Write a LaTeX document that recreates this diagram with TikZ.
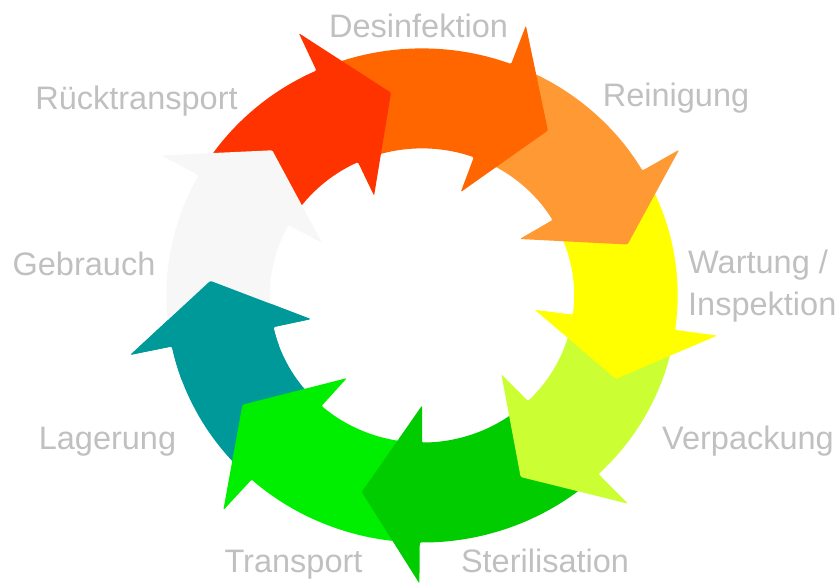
\documentclass[tikz,border=0pt]{standalone}
\usepackage{fontspec}
\setmainfont{Liberation Sans}
\definecolor{cGray}{HTML}{F7F7F7}
\definecolor{cRed}{HTML}{FF3300}
\definecolor{cOrange}{HTML}{FF6600}
\definecolor{cLOrange}{HTML}{FF9933}
\definecolor{cYellow}{HTML}{FFFF00}
\definecolor{cYGreen}{HTML}{CCFF33}
\definecolor{cDGreen}{HTML}{00CC00}
\definecolor{cBGreen}{HTML}{00EE00}
\definecolor{cTeal}{HTML}{009999}
\definecolor{cLabel}{HTML}{C0C0C0}
\tikzset{
  lbl/.style={text=cLabel, font=\fontsize{32.5pt}{41.7pt}\selectfont, inner sep=0pt, anchor=base},
  cyc/.style={rounded corners=1.2pt}
}
% #1 tip angle, #2 tail angle, #3 colour
\newcommand\cycarrow[3]{%
  \fill[#3, cyc] (#2:255.6pt and 247pt)
    arc[start angle=#2, end angle={#1+16}, x radius=255.6pt, y radius=247pt]
    -- ({#1+16}:298.1pt and 288pt)
    -- (#1:212.2pt and 205pt)
    -- ({#1+16.5}:113.85pt and 110pt)
    -- ({#1+16.5}:152.1pt and 147pt)
    arc[start angle={#1+16.5}, end angle=#2, x radius=152.1pt, y radius=147pt]
    -- cycle;}
\begin{document}
\begin{tikzpicture}
\useasboundingbox (0,0) rectangle (840pt,583pt);
\begin{scope}[shift={(422pt,287.5pt)}]
  \cycarrow{-184.1}{-134.8}{cTeal}
  \cycarrow{-147.8}{-93.5}{cBGreen}
  \cycarrow{-106.5}{-49.3}{cDGreen}
  \cycarrow{-62.3}{-11}{cYGreen}
  \cycarrow{-24}{27.4}{cYellow}
  \cycarrow{14.4}{66.6}{cLOrange}
  \cycarrow{53.6}{111.4}{cOrange}
  \cycarrow{98.4}{147.9}{cRed}
  \cycarrow{134.9}{188.9}{cGray}
  \begin{scope}
    \clip (0,0) -- (165:331pt and 320pt)
      arc[start angle=165, end angle=200, x radius=331pt, y radius=320pt] -- cycle;
    \cycarrow{-184.1}{-134.8}{cTeal}
  \end{scope}
\end{scope}
\node[lbl] (desinf) at (418.5pt,545.7pt) {Desinfektion};
\node[lbl] (rueck) at (136.5pt,473.7pt) {Rücktransport};
\node[lbl] (rein) at (676pt,476.3pt) {Reinigung};
\node[lbl] (gebr) at (84pt,307pt) {Gebrauch};
\node[lbl, anchor=base west, align=left] (wart) at (688pt,267.3pt) {Wartung /\\Inspektion};
\node[lbl] (lager) at (107.5pt,133.5pt) {Lagerung};
\node[lbl] (verp) at (748pt,133pt) {Verpackung};
\node[lbl] (trans) at (293.5pt,10.3pt) {Transport};
\node[lbl] (steril) at (545pt,10.3pt) {Sterilisation};
\end{tikzpicture}
\end{document}
